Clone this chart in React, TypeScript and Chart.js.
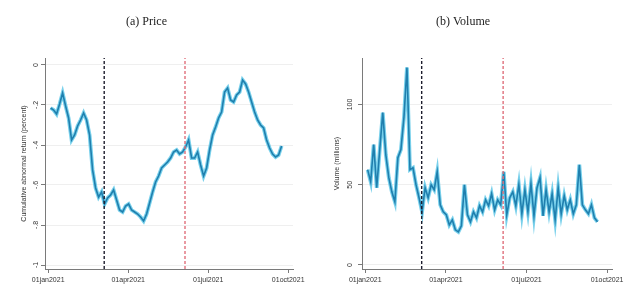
import React, { useEffect, useRef } from "react";
import { Chart, registerables } from "chart.js";

Chart.register(...registerables);

// ---- data ----
const DATE_TICKS = [0, 1, 2, 3];
const DATE_LABELS = ["01jan2021", "01apr2021", "01jul2021", "01oct2021"];
const SERIES_START = 0.03;
const SERIES_STEP = 0.0375;
const EVENT_BLACK = 0.7;
const EVENT_RED = 1.71;

const PRICE = [
  -0.215, -0.225, -0.245, -0.195, -0.14, -0.205, -0.265, -0.375, -0.35, -0.305,
  -0.275, -0.24, -0.275, -0.35, -0.525, -0.615, -0.66, -0.635, -0.695, -0.665,
  -0.65, -0.625, -0.675, -0.725, -0.735, -0.705, -0.695, -0.725, -0.735, -0.745,
  -0.76, -0.78, -0.745, -0.69, -0.635, -0.585, -0.555, -0.515, -0.5, -0.485,
  -0.465, -0.435, -0.425, -0.445, -0.435, -0.41, -0.375, -0.465, -0.465, -0.435,
  -0.5, -0.555, -0.515, -0.425, -0.35, -0.31, -0.265, -0.235, -0.135, -0.115,
  -0.175, -0.185, -0.15, -0.135, -0.075, -0.095, -0.135, -0.185, -0.235, -0.275,
  -0.3, -0.315, -0.375, -0.415, -0.445, -0.46, -0.45, -0.405,
];

const VOLUME = [
  59.4, 51.9, 75, 48.1, 71.9, 95, 68.8, 54.4, 45.6, 39.4,
  66.9, 71.9, 91.9, 123.1, 59.4, 60.6, 50, 41.9, 33.1, 48.1,
  41.9, 50, 46.9, 58.1, 37.5, 33.1, 31.3, 25, 28.1, 21.9,
  20.6, 24.4, 50, 31.3, 26.9, 33.1, 29.4, 36.9, 33.1, 40.6,
  36.9, 44.4, 34.4, 40.6, 37.5, 58.1, 31.3, 41.9, 45.6, 36.9,
  50, 31.9, 46.9, 33.1, 50.6, 30.6, 48.1, 54.4, 30.6, 46.9,
  33.1, 44.4, 28.1, 48.1, 31.9, 43.1, 34.4, 40.6, 31.9, 37.5,
  62.5, 37.5, 34.4, 31.9, 37.5, 29.4, 26.9,
];

const PRICE_TICKS = [-1, -0.8, -0.6, -0.4, -0.2, 0];
const PRICE_TICK_LABELS = ["-1", "-.8", "-.6", "-.4", "-.2", "0"];
const VOLUME_TICKS = [0, 50, 100];
const VOLUME_TICK_LABELS = ["0", "50", "100"];

const TICK_FONT = { family: "Liberation Sans", size: 7 };
const AXIS_COLOR = "#7a7a7a";
const TEXT_COLOR = "#333333";

type PanelProps = {
  title: string;
  yTitle: string;
  values: number[];
  yMin: number;
  yMax: number;
  yTicks: number[];
  yTickLabels: string[];
  axisWidth: number;
  padRight: number;
  yTitlePad: number;
  yTickPad: number;
};

function Panel(p: PanelProps) {
  const ref = useRef<HTMLCanvasElement | null>(null);
  useEffect(() => {
    if (!ref.current) return;
    const pts = p.values.map((y, i) => ({ x: SERIES_START + i * SERIES_STEP, y }));
    const chart = new Chart(ref.current, {
      type: "line",
      data: {
        datasets: [
          {
            data: [
              { x: EVENT_BLACK, y: p.yMin },
              { x: EVENT_BLACK, y: p.yMax },
            ],
            borderColor: "#1c1c2c",
            borderWidth: 1.4,
            borderDash: [3, 2],
            pointRadius: 0,
            order: -2,
          },
          {
            data: [
              { x: EVENT_RED, y: p.yMin },
              { x: EVENT_RED, y: p.yMax },
            ],
            borderColor: "#e0707c",
            borderWidth: 1.4,
            borderDash: [3, 2],
            pointRadius: 0,
            order: -1,
          },
          {
            data: pts,
            borderColor: "#1f7fae",
            borderWidth: 1.6,
            pointRadius: 0,
            tension: 0,
            order: 0,
          },
          {
            data: pts,
            borderColor: "rgba(96,200,232,0.85)",
            borderWidth: 3.8,
            pointRadius: 0,
            tension: 0,
            order: 1,
          },
        ],
      },
      options: {
        animation: false,
        responsive: false,
        events: [],
        layout: { padding: { left: 0, right: p.padRight, top: 0, bottom: 0 } },
        plugins: {
          legend: { display: false },
          tooltip: { enabled: false },
          title: {
            display: true,
            text: p.title,
            color: "#222222",
            font: { family: "Liberation Serif", size: 12, weight: "normal" },
            padding: { top: 15, bottom: 28.6 },
          },
        },
        scales: {
          x: {
            type: "linear",
            min: -0.04,
            max: 3.06,
            afterBuildTicks: (s: any) => {
              s.ticks = DATE_TICKS.map((v) => ({ value: v }));
            },
            afterFit: (s: any) => {
              s.height = 19;
            },
            ticks: {
              callback: (v: any) => {
                const i = DATE_TICKS.indexOf(Number(v));
                return i >= 0 ? DATE_LABELS[i] : "";
              },
              font: TICK_FONT,
              color: TEXT_COLOR,
              padding: 3,
              maxRotation: 0,
              minRotation: 0,
            },
            grid: { drawOnChartArea: false, tickLength: 4, color: AXIS_COLOR, tickColor: AXIS_COLOR },
            border: { color: AXIS_COLOR, width: 1 },
          },
          y: {
            type: "linear",
            min: p.yMin,
            max: p.yMax,
            afterBuildTicks: (s: any) => {
              s.ticks = p.yTicks.map((v) => ({ value: v }));
            },
            afterFit: (s: any) => {
              s.width = p.axisWidth;
            },
            ticks: {
              callback: (v: any) => {
                const i = p.yTicks.findIndex((t) => Math.abs(t - Number(v)) < 1e-9);
                return i >= 0 ? p.yTickLabels[i] : "";
              },
              font: TICK_FONT,
              color: TEXT_COLOR,
              minRotation: 90,
              maxRotation: 90,
              crossAlign: "center",
              padding: p.yTickPad,
            },
            grid: { color: "#efefef", tickColor: AXIS_COLOR, tickLength: 4 },
            border: { color: AXIS_COLOR, width: 1 },
            title: {
              display: true,
              text: p.yTitle,
              color: TEXT_COLOR,
              font: TICK_FONT,
              padding: { top: p.yTitlePad, bottom: 0 },
            },
          },
        },
      } as any,
    });
    return () => chart.destroy();
  }, []);
  return <canvas ref={ref} width={314} height={288} style={{ display: "block" }} />;
}

export default function App() {
  return (
    <div
      style={{
        position: "fixed",
        left: 0,
        top: 0,
        width: 628,
        height: 288,
        display: "flex",
        background: "#ffffff",
      }}
    >
      <Panel
        title="(a) Price"
        yTitle="Cumulative abnormal return (percent)"
        values={PRICE}
        yMin={-1.02}
        yMax={0.035}
        yTicks={PRICE_TICKS}
        yTickLabels={PRICE_TICK_LABELS}
        axisWidth={45}
        padRight={21}
        yTitlePad={20}
        yTickPad={1}
      />
      <Panel
        title="(b) Volume"
        yTitle="Volume (millions)"
        values={VOLUME}
        yMin={-2.5}
        yMax={129}
        yTicks={VOLUME_TICKS}
        yTickLabels={VOLUME_TICK_LABELS}
        axisWidth={48}
        padRight={16}
        yTitlePad={19}
        yTickPad={2}
      />
    </div>
  );
}
